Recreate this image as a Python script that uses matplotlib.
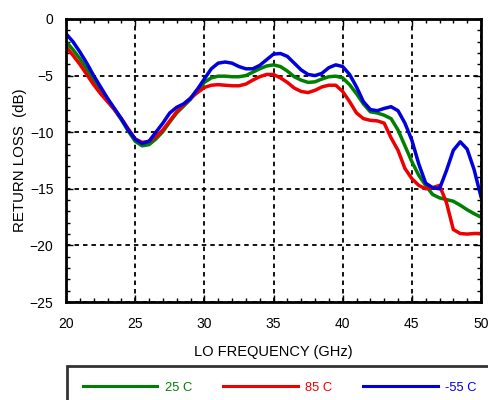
import numpy as np
import matplotlib
matplotlib.use("Agg")
import matplotlib.pyplot as plt
from matplotlib.ticker import MultipleLocator

plt.rcParams['font.family'] = ['Liberation Sans', 'DejaVu Sans']

# LO frequency (GHz), shared by all three curves
freq = [20.0, 20.5, 21.0, 21.5, 22.0, 22.5, 23.0, 23.5, 24.0, 24.5,
        25.0, 25.5, 26.0, 26.5, 27.0, 27.5, 28.0, 28.5, 29.0, 29.5,
        30.0, 30.5, 31.0, 31.5, 32.0, 32.5, 33.0, 33.5, 34.0, 34.5,
        35.0, 35.5, 36.0, 36.5, 37.0, 37.5, 38.0, 38.5, 39.0, 39.5,
        40.0, 40.5, 41.0, 41.5, 42.0, 42.5, 43.0, 43.5, 44.0, 44.5,
        45.0, 45.5, 46.0, 46.5, 47.0, 47.5, 48.0, 48.5, 49.0, 49.5, 50.0]

# return loss (dB)
rl_25c = [-2.0, -2.7, -3.5, -4.4, -5.4, -6.3, -7.2, -8.0, -8.9, -9.9,
          -10.8, -11.2, -11.1, -10.6, -9.95, -9.1, -8.3, -7.7, -7.1, -6.3,
          -5.6, -5.2, -5.05, -5.05, -5.1, -5.1, -5.0, -4.7, -4.4, -4.15,
          -4.05, -4.2, -4.6, -5.1, -5.4, -5.6, -5.55, -5.3, -5.1, -5.05,
          -5.2, -5.8, -6.6, -7.5, -8.2, -8.3, -8.5, -8.8, -9.8, -11.2,
          -12.6, -13.8, -14.7, -15.5, -15.8, -15.95, -16.1, -16.45, -16.85, -17.2, -17.5]

rl_85c = [-2.45, -3.2, -4.0, -4.9, -5.8, -6.6, -7.3, -8.0, -8.8, -9.7,
          -10.6, -10.9, -10.8, -10.4, -9.8, -9.0, -8.2, -7.6, -7.0, -6.5,
          -6.05, -5.85, -5.8, -5.85, -5.9, -5.9, -5.75, -5.4, -5.1, -4.9,
          -4.9, -5.2, -5.6, -6.1, -6.4, -6.5, -6.3, -6.0, -5.85, -5.85,
          -6.4, -7.3, -8.3, -8.8, -8.95, -9.0, -9.2, -10.5, -11.6, -13.2,
          -14.1, -14.7, -15.0, -14.9, -14.7, -16.2, -18.6, -18.95, -19.0, -18.95, -18.95]

rl_m55c = [-1.3, -2.0, -2.9, -3.9, -5.0, -6.0, -7.0, -7.9, -8.8, -9.8,
           -10.6, -11.0, -10.8, -10.0, -9.2, -8.3, -7.8, -7.5, -7.0, -6.2,
           -5.3, -4.4, -3.9, -3.8, -3.9, -4.2, -4.4, -4.4, -4.1, -3.6,
           -3.1, -3.05, -3.3, -3.9, -4.5, -4.9, -5.0, -4.8, -4.3, -4.05,
           -4.2, -4.9, -6.0, -7.3, -8.0, -8.1, -7.9, -7.75, -8.1, -9.2,
           -10.7, -12.8, -14.5, -14.9, -15.0, -13.4, -11.6, -10.85, -11.5, -13.3, -15.7]

series = [("25 C", rl_25c, "#008000"),
          ("85 C", rl_85c, "#ee0000"),
          ("-55 C", rl_m55c, "#0000dd")]

fig = plt.figure(figsize=(4.88, 4.0), dpi=100)
ax = fig.add_axes([66/488, 1 - 302/400, (481 - 66)/488, (302 - 19)/400])

for label, vals, col in series:
    ax.plot(freq, vals, color=col, lw=2.5, label=label, solid_joinstyle='round')

ax.set_xlim(20, 50)
ax.set_ylim(-25, 0)
ax.xaxis.set_major_locator(MultipleLocator(5))
ax.xaxis.set_minor_locator(MultipleLocator(1))
ax.yaxis.set_major_locator(MultipleLocator(5))
ax.yaxis.set_minor_locator(MultipleLocator(1))
ax.grid(True, which='major', color='black', ls=(0, (2.5, 2.2)), lw=1.3)

ax.tick_params(which='both', direction='in', top=True, right=True,
               labelsize=10, width=1, color='black')
ax.tick_params(which='major', length=5)
ax.tick_params(which='minor', length=3)
ax.tick_params(axis='x', pad=11)
ax.tick_params(axis='y', pad=9)
for sp in ax.spines.values():
    sp.set_linewidth(2)

ax.set_xlabel("LO FREQUENCY (GHz)", fontsize=10.5, labelpad=10)
ax.set_ylabel("RETURN LOSS  (dB)", fontsize=10.8, labelpad=2)

leg = fig.legend(loc='upper left', bbox_to_anchor=(67/488, 1 - 366/400),
                 ncol=3, fontsize=9.3, frameon=True, fancybox=False,
                 handlelength=5.8, handletextpad=0.55, columnspacing=2.4,
                 borderpad=1.2, borderaxespad=0)
leg.get_frame().set_edgecolor('black')
leg.get_frame().set_linewidth(2)
for line in leg.get_lines():
    line.set_linewidth(2.2)
for txt, (_, _, col) in zip(leg.get_texts(), series):
    txt.set_color(col)

fig.savefig("out.png", dpi=100)
